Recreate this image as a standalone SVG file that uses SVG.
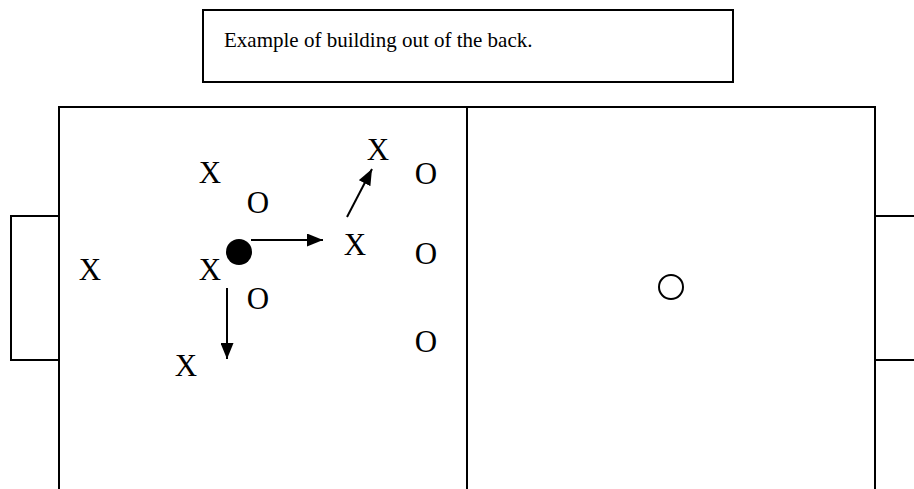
<svg xmlns="http://www.w3.org/2000/svg" width="914" height="489" viewBox="0 0 914 489">
<defs>
<style>
.ln{fill:none;stroke:#000;stroke-width:2}
.p{font-family:"Liberation Serif","Times New Roman",serif;font-size:31px;fill:#000;text-anchor:middle}
.t{font-family:"Liberation Serif","Times New Roman",serif;font-size:21px;fill:#000}
.ar{fill:none;stroke:#000;stroke-width:2}
</style>
<marker id="ah" viewBox="0 0 10 10" refX="10" refY="5" markerWidth="16" markerHeight="13" markerUnits="userSpaceOnUse" orient="auto" preserveAspectRatio="none">
<path d="M0,0 L10,5 L0,10 Z" fill="#000"/>
</marker>
</defs>
<rect width="914" height="489" fill="#fff"/>
<g id="title">
<rect class="ln" x="203" y="10" width="530" height="72"/>
<text class="t" x="224" y="47">Example of building out of the back.</text>
</g>
<g id="field">
<path class="ln" d="M59,489 V107 H875 V489"/>
<path class="ln" d="M467,107 V489"/>
<path class="ln" d="M59,216 H11 V360 H59"/>
<path class="ln" d="M914,216 H875 M914,360 H875"/>
<circle class="ln" cx="671" cy="287" r="12"/>
</g>
<g id="players">
<text class="p" x="90" y="280">X</text>
<text class="p" x="210" y="183">X</text>
<text class="p" x="210" y="280">X</text>
<text class="p" x="186" y="376">X</text>
<text class="p" x="355" y="255">X</text>
<text class="p" x="378" y="160">X</text>
<text class="p" x="258" y="213">O</text>
<text class="p" x="258" y="309">O</text>
<text class="p" x="426" y="184">O</text>
<text class="p" x="426" y="264">O</text>
<text class="p" x="426" y="352">O</text>
<circle id="ball" cx="239" cy="252" r="13" fill="#000"/>
</g>
<g id="connectors">
<path class="ar" d="M251,240 H323" marker-end="url(#ah)"/>
<path class="ar" d="M227,288 V359" marker-end="url(#ah)"/>
<path class="ar" d="M347,217 L372,169" marker-end="url(#ah)"/>
</g>
</svg>
